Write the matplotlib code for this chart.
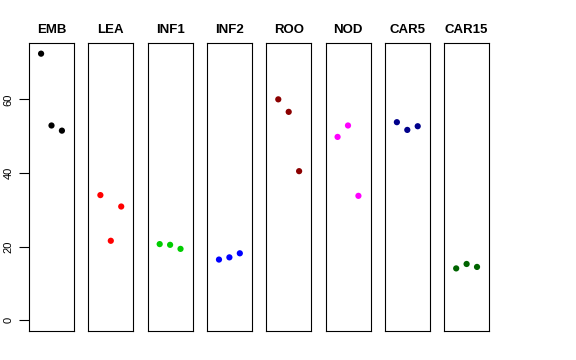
import matplotlib
matplotlib.use("Agg")
import matplotlib.pyplot as plt

# tissue panels
tissues = ["EMB", "LEA", "INF1", "INF2", "ROO", "NOD", "CAR5", "CAR15"]
colors = ["#000000", "#FF0000", "#00CD00", "#0000FF",
          "#8B0000", "#FF00FF", "#00008B", "#006400"]

# three replicates per tissue
rep1 = [72.4, 34.0, 20.7, 16.5, 60.0, 49.8, 53.8, 14.1]
rep2 = [52.9, 21.6, 20.5, 17.1, 56.6, 52.9, 51.7, 15.3]
rep3 = [51.5, 30.9, 19.4, 18.2, 40.5, 33.8, 52.7, 14.5]
reps = [1, 2, 3]

yticks = [0, 20, 40, 60]

plt.rcParams["font.family"] = ["Liberation Sans", "DejaVu Sans"]

W, H = 576, 360
fig = plt.figure(figsize=(W / 100, H / 100), dpi=100)

# R-style 4% padding around 0..max and 0..4
ymax = max(rep1 + rep2 + rep3)
ylim = (-0.04 * ymax, ymax * 1.04)
xlim = (-0.16, 4.16)

left0 = 29
pw = 45
step = 59.3
top = 43
bottom = 331

for i, name in enumerate(tissues):
    x0 = left0 + i * step
    ax = fig.add_axes([x0 / W, 1 - bottom / H, pw / W, (bottom - top) / H])
    vals = [rep1[i], rep2[i], rep3[i]]
    ax.scatter(reps, vals, s=20, color=colors[i], edgecolors="none", zorder=3)
    ax.set_xlim(*xlim)
    ax.set_ylim(*ylim)
    ax.set_xticks([])
    for sp in ax.spines.values():
        sp.set_linewidth(0.8)
        sp.set_color("black")
    ax.set_title(name, fontsize=9.5, fontweight="bold", pad=7)
    if i == 0:
        ax.set_yticks(yticks)
        ax.set_yticklabels([str(t) for t in yticks], rotation=90, va="center", fontsize=8)
        ax.tick_params(axis="y", length=7, width=0.8, pad=4)
    else:
        ax.set_yticks([])

fig.savefig("out.png", dpi=100)
